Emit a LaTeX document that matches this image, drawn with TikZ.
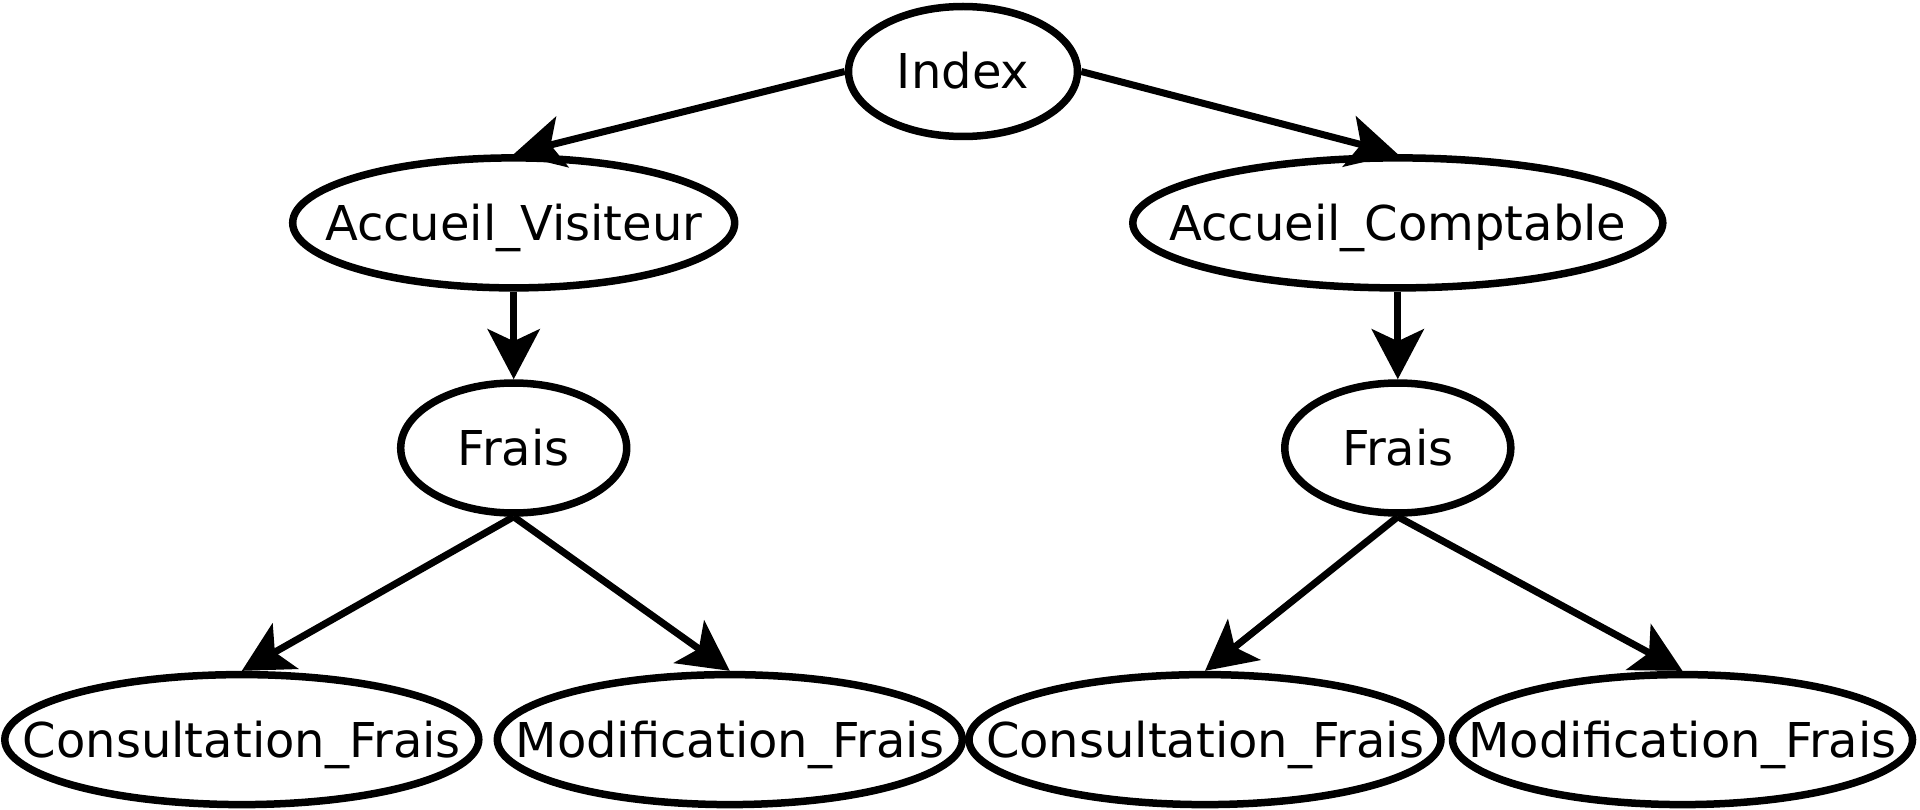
\documentclass[tikz,border=0pt]{standalone}
\usepackage{fontspec}
\setmainfont{DejaVu Sans}
\usetikzlibrary{arrows.meta,shapes.geometric}
\begin{document}
\begin{tikzpicture}[x=1pt,y=-1pt,
  ell/.style={draw=black, fill=white, ellipse, line width=7.5pt, inner sep=0pt, minimum height=130pt},
  lab/.style={inner sep=0pt, font=\fontsize{48}{58}\selectfont, text height=35pt, text depth=0pt},
  edge/.style={draw=black, line width=7pt, -{Stealth[length=50pt,width=52pt,inset=12pt]}}]
\useasboundingbox (0,0) rectangle (1920,810);
% nodes
\node[ell, minimum width=229pt] (idx) at (963,71.5) {};
\node[lab] at (idx) {Index};
\node[ell, minimum width=442pt] (av) at (513.7,222.9) {};
\node[lab] at (av) {Accueil\_Visiteur};
\node[ell, minimum width=530pt] (ac) at (1397.8,222.9) {};
\node[lab] at (ac) {Accueil\_Comptable};
\node[ell, minimum width=226pt] (fl) at (513.7,448) {};
\node[lab] at (fl) {Frais};
\node[ell, minimum width=226pt] (fr) at (1397.8,448) {};
\node[lab] at (fr) {Frais};
\node[ell, minimum width=474pt] (cl) at (241.8,739.6) {};
\node[lab] at (cl) {Consultation\_Frais};
\node[ell, minimum width=465pt] (ml) at (729.8,739.6) {};
\node[lab] at (ml) {Modification\_Frais};
\node[ell, minimum width=472pt] (cr) at (1205,739.6) {};
\node[lab] at (cr) {Consultation\_Frais};
\node[ell, minimum width=460pt] (mr) at (1682.5,739.6) {};
\node[lab] at (mr) {Modification\_Frais};
% edges
\draw[edge] (idx.west) -- (av.north);
\draw[edge] (idx.east) -- (ac.north);
\draw[edge] (av.south) -- (fl.north);
\draw[edge] (ac.south) -- (fr.north);
\draw[edge] (fl.south) -- (cl.north);
\draw[edge] (fl.south) -- (ml.north);
\draw[edge] (fr.south) -- (cr.north);
\draw[edge] (fr.south) -- (mr.north);
\end{tikzpicture}
\end{document}
